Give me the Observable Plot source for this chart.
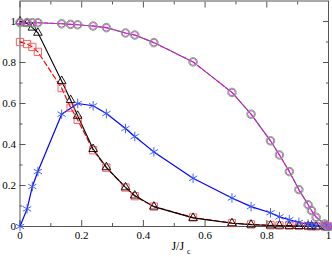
<!DOCTYPE html>
<html><head><meta charset="utf-8">
<script src="https://cdn.jsdelivr.net/npm/d3@7"></script>
<script src="https://cdn.jsdelivr.net/npm/@observablehq/plot@0.6"></script>
<style>body{margin:0;background:#fff} svg{display:block}</style>
</head><body><div id="chart"></div>
<script>
// shared J/Jc sample points
const xAll = [0, 0.023, 0.04, 0.058, 0.135, 0.164, 0.187, 0.237, 0.28, 0.342, 0.372, 0.434, 0.561, 0.687, 0.749, 0.812, 0.841, 0.873, 0.904, 0.934, 0.945, 0.96, 0.988, 0.994, 1.0];
// circles (green + magenta, overlapping)
const circleY = [0.995, 0.995, 0.994, 0.994, 0.989, 0.986, 0.984, 0.978, 0.970, 0.944, 0.934, 0.897, 0.803, 0.654, 0.548, 0.418, 0.349, 0.268, 0.180, 0.106, 0.078, 0.045, 0.012, 0.005, 0];
// triangles (black)
const triY = [1.0, 0.99, 0.97, 0.945, 0.71, 0.617, 0.54, 0.378, 0.289, 0.191, 0.151, 0.097, 0.042, 0.016, 0.009, 0.005, 0.004, 0.003, 0.002, 0.001, 0.001, 0, 0, 0, 0];
// squares (red dashed)
const sqY = [0.9, 0.89, 0.876, 0.852, 0.675, 0.58, 0.52, 0.372, 0.287, 0.19, 0.148, 0.097, 0.044, 0.017, 0.01, 0.006, 0.005, 0.004, 0.003, 0.002, 0.001, 0.001, 0, 0, 0];
// stars (blue)
const starX = [0, 0.023, 0.04, 0.058, 0.135, 0.187, 0.237, 0.28, 0.342, 0.372, 0.434, 0.561, 0.687, 0.749, 0.812, 0.841, 0.873, 0.904, 0.934, 0.945, 0.96, 0.988, 0.994, 1.0];
const starY = [0, 0.086, 0.195, 0.268, 0.548, 0.600, 0.589, 0.551, 0.478, 0.439, 0.364, 0.235, 0.139, 0.097, 0.067, 0.047, 0.033, 0.020, 0.011, 0.008, 0.005, 0.001, 0.0005, 0];

const xMajor = [0, 0.2, 0.4, 0.6, 0.8, 1];
const xMinor = [0.1, 0.3, 0.5, 0.7, 0.9];
const xLabels = ["0", "0.2", "0.4", "0.6", "0.8", "1"];
const yMajor = [0, 0.2, 0.4, 0.6, 0.8, 1];
const yMinor = [0.1, 0.3, 0.5, 0.7, 0.9];
const yLabels = ["0", "0.2", "0.4", "0.6", "0.8", "1"];

const mk = (xs, ys) => xs.map((x, i) => ({x, y: ys[i]}));
const circles = mk(xAll, circleY);
const tris = mk(xAll, triY);
const squares = mk(xAll, sqY);
const stars = mk(starX, starY);

const axisCol = "#555";
const blank = () => "";
const plot = Plot.plot({
  width: 332, height: 257,
  marginLeft: 19.5, marginRight: 4, marginTop: 0.5, marginBottom: 31,
  style: {fontFamily: "'Liberation Serif', serif", fontSize: "11px", background: "#fff", color: "#000"},
  x: {domain: [0, 1]},
  y: {domain: [0, 1.1]},
  marks: [
    Plot.frame({stroke: axisCol}),
    Plot.axisX({ticks: xMajor, anchor: "bottom", tickSize: -6, tickFormat: blank, stroke: axisCol, label: null}),
    Plot.axisX({ticks: xMinor, anchor: "bottom", tickSize: -3, tickFormat: blank, stroke: axisCol, label: null}),
    Plot.axisX({ticks: xMajor, anchor: "top", tickSize: -6, tickFormat: blank, stroke: axisCol, label: null}),
    Plot.axisX({ticks: xMinor, anchor: "top", tickSize: -3, tickFormat: blank, stroke: axisCol, label: null}),
    Plot.axisY({ticks: yMajor, anchor: "left", tickSize: -6, tickFormat: blank, stroke: axisCol, label: null}),
    Plot.axisY({ticks: yMinor, anchor: "left", tickSize: -3, tickFormat: blank, stroke: axisCol, label: null}),
    Plot.axisY({ticks: yMajor, anchor: "right", tickSize: -6, tickFormat: blank, stroke: axisCol, label: null}),
    Plot.axisY({ticks: yMinor, anchor: "right", tickSize: -3, tickFormat: blank, stroke: axisCol, label: null}),
    Plot.axisX({ticks: xMajor, anchor: "bottom", tickSize: 0, tickPadding: 4.5, tickFormat: (d, i) => xLabels[i], label: null, fill: "#000"}),
    Plot.axisY({ticks: yMajor, anchor: "left", tickSize: 0, tickPadding: 4, tickFormat: (d, i) => yLabels[i], label: null, fill: "#000"}),
    Plot.text(["J/J"], {frameAnchor: "bottom", dx: 3.5, dy: 23, lineAnchor: "bottom", fontSize: 12, fill: "#000"}),
    Plot.text(["c"], {frameAnchor: "bottom", dx: 14.5, dy: 27, lineAnchor: "bottom", fontSize: 8, fill: "#000"}),
    // lines
    Plot.line(squares, {x: "x", y: "y", stroke: "#ff0000", strokeWidth: 1.2, strokeDasharray: "5,3"}),
    Plot.line(tris, {x: "x", y: "y", stroke: "#000", strokeWidth: 1.1}),
    Plot.line(stars, {x: "x", y: "y", stroke: "#0000ff", strokeWidth: 1.2}),
    Plot.line(circles, {x: "x", y: "y", stroke: "#139a13", strokeWidth: 1.1}),
    Plot.line(circles, {x: "x", y: "y", stroke: "#ff00ff", strokeWidth: 1.1, strokeDasharray: "4,2"}),
    // markers
    Plot.dot(squares, {x: "x", y: "y", symbol: "square", r: 4.1, stroke: "#ff5050", strokeWidth: 0.9, fill: "none"}),
    Plot.dot(tris, {x: "x", y: "y", symbol: "triangle", r: 3.2, stroke: "#000", strokeWidth: 0.9, fill: "none"}),
    Plot.dot(stars, {x: "x", y: "y", symbol: "asterisk", r: 4.5, stroke: "#3355ff", strokeWidth: 0.9, fill: "none"}),
    Plot.dot(circles, {x: "x", y: "y", symbol: "circle", r: 4.3, stroke: "#55c055", strokeWidth: 1, fill: "none"}),
    Plot.dot(circles, {x: "x", y: "y", symbol: "circle", r: 3.4, stroke: "#e040e0", strokeWidth: 1, fill: "none"})
  ]
});
document.getElementById("chart").appendChild(plot);
</script>
</body></html>
